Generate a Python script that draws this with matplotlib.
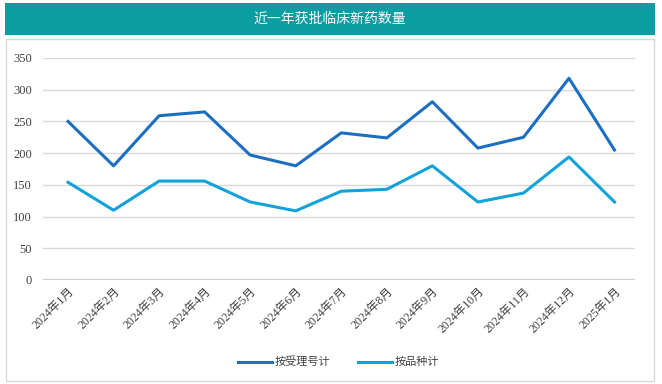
import matplotlib
matplotlib.use("Agg")
import matplotlib.pyplot as plt
from matplotlib.patches import Rectangle

plt.rcParams['font.family'] = ['Liberation Serif', 'Noto Sans CJK SC', 'DejaVu Sans']

# data
months = ["2024年1月", "2024年2月", "2024年3月", "2024年4月", "2024年5月", "2024年6月",
          "2024年7月", "2024年8月", "2024年9月", "2024年10月", "2024年11月", "2024年12月",
          "2025年1月"]
by_acceptance = [250, 180, 259, 265, 197, 180, 232, 224, 281, 208, 225, 318, 205]
by_variety = [154, 110, 156, 156, 123, 109, 140, 143, 180, 123, 137, 194, 123]
series_names = ["按受理号计", "按品种计"]
title = "近一年获批临床新药数量"

fig = plt.figure(figsize=(6.62, 3.84), dpi=100)

# title bar
fig.patches.append(Rectangle((5 / 662, 1 - 35 / 384), 650 / 662, 32 / 384,
                             transform=fig.transFigure, facecolor="#0b9da2",
                             edgecolor="none"))
fig.text(330 / 662, 1 - 19 / 384, title, ha="center", va="center", color="white",
         fontsize=10, family=['Noto Sans CJK SC'])
# chart frame
fig.patches.append(Rectangle((6 / 662, 3 / 384), 648 / 662, (384 - 42) / 384,
                             transform=fig.transFigure, facecolor="none",
                             edgecolor="#d9d9d9", linewidth=1))

ax = fig.add_axes([43 / 662, 1 - 280 / 384, (635 - 43) / 662, (280 - 58) / 384])
x = list(range(len(months)))
ax.plot(x, by_acceptance, color="#1b6ec2", linewidth=2.2, label=series_names[0])
ax.plot(x, by_variety, color="#12a2db", linewidth=2.2, label=series_names[1])

ax.set_ylim(0, 350)
ax.set_yticks(range(0, 351, 50))
ax.set_xlim(-0.55, len(months) - 0.55)
ax.set_xticks(x)
ax.set_xticklabels(months, rotation=45, ha="right", rotation_mode="anchor",
                   fontsize=8.5, color="#404040")
ax.tick_params(axis="y", labelsize=9, labelcolor="#404040", length=0, pad=8)
ax.tick_params(axis="x", length=0, pad=4)
ax.grid(axis="y", color="#d9d9d9", linewidth=1)
ax.axhline(0, color="#d0d0d0", linewidth=1.6, zorder=1)
ax.set_axisbelow(True)
for s in ax.spines.values():
    s.set_visible(False)

leg = ax.legend(loc="upper center", bbox_to_anchor=(0.5, -0.3), ncol=2, frameon=False,
                handlelength=3, columnspacing=2.5, handletextpad=0.3,
                prop={'family': ['Noto Sans CJK SC'], 'size': 8})
for t in leg.get_texts():
    t.set_color("#404040")

fig.savefig("out.png", dpi=100)
